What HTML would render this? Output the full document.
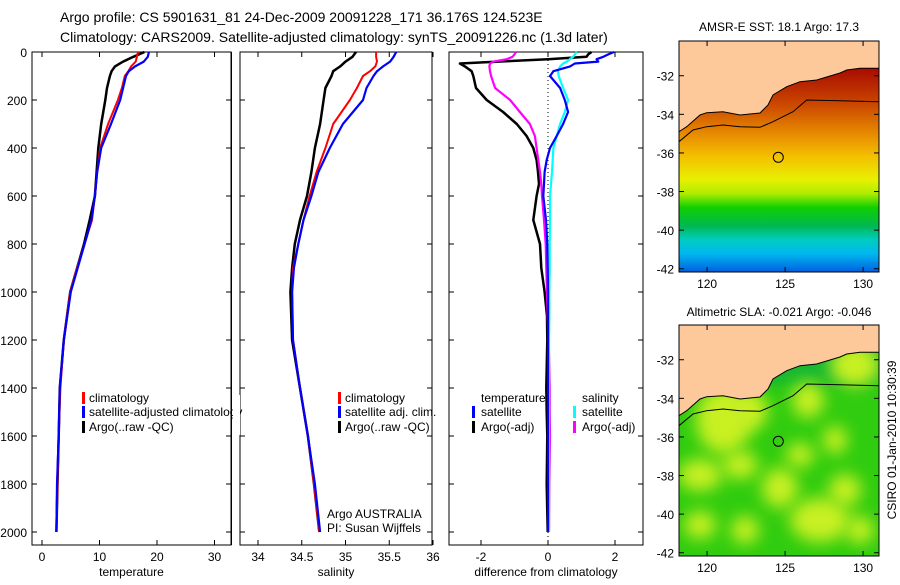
<!DOCTYPE html>
<html><head><meta charset="utf-8"><style>
body{margin:0;background:#fff}
svg text{font-family:"Liberation Sans",sans-serif;font-size:12px;fill:#000}
</style></head><body>
<svg id="fig" width="900" height="580" viewBox="0 0 900 580" xmlns="http://www.w3.org/2000/svg">
<defs>
<linearGradient id="sstg" x1="0" y1="0" x2="0" y2="1">
<stop offset="0.12" stop-color="#a80c00"/><stop offset="0.28" stop-color="#cc4a00"/><stop offset="0.4" stop-color="#e68a00"/>
<stop offset="0.5" stop-color="#f4c000"/><stop offset="0.6" stop-color="#e8f000"/><stop offset="0.66" stop-color="#b0ec00"/>
<stop offset="0.72" stop-color="#10d000"/><stop offset="0.8" stop-color="#00b850"/><stop offset="0.86" stop-color="#00ccc0"/>
<stop offset="0.92" stop-color="#00b8f0"/><stop offset="1" stop-color="#0060e0"/></linearGradient>
<filter id="bl" x="-50%" y="-50%" width="200%" height="200%"><feGaussianBlur stdDeviation="8"/></filter>
<clipPath id="c1"><rect x="679" y="41" width="200" height="231"/></clipPath>
<clipPath id="c2"><rect x="679" y="325" width="200" height="231"/></clipPath>
</defs>
<text x="60" y="22" style="font-size:14px">Argo profile: CS 5901631_81 24-Dec-2009 20091228_171 36.176S 124.523E</text>
<text x="60" y="42" style="font-size:14px">Climatology: CARS2009. Satellite-adjusted climatology: synTS_20091226.nc (1.3d later)</text>
<g id="plots"></g>
<g id="maps"></g>
<text x="89" y="402">climatology</text>
<text x="89" y="416">satellite-adjusted climatology</text>
<text x="89" y="431">Argo(..raw -QC)</text>
<rect x="233" y="395" width="7" height="40" fill="#fff"/>
<rect x="231" y="52" width="1" height="493" fill="#000"/>
<text x="345" y="402">climatology</text>
<text x="345" y="416">satellite adj. clim.</text>
<text x="345" y="431">Argo(..raw -QC)</text>
<text x="327" y="518">Argo AUSTRALIA</text>
<text x="327" y="532">PI: Susan Wijffels</text>
<text x="481" y="402">temperature</text>
<text x="481" y="416">satellite</text>
<text x="481" y="431">Argo(-adj)</text>
<text x="582" y="402">salinity</text>
<text x="582" y="416">satellite</text>
<text x="582" y="431">Argo(-adj)</text>
<g>
<rect x="82" y="392" width="3" height="12" fill="#f00"/><rect x="82" y="406" width="3" height="12" fill="#00f"/><rect x="82" y="421" width="3" height="12" fill="#000"/>
<rect x="338" y="392" width="3" height="12" fill="#f00"/><rect x="338" y="406" width="3" height="12" fill="#00f"/><rect x="338" y="421" width="3" height="12" fill="#000"/>
<rect x="472" y="406" width="3" height="12" fill="#00f"/><rect x="472" y="421" width="3" height="12" fill="#000"/>
<rect x="573" y="406" width="3" height="12" fill="#0ff"/><rect x="573" y="421" width="3" height="12" fill="#f0f"/>
</g>
<text x="779" y="31" text-anchor="middle">AMSR-E SST: 18.1 Argo: 17.3</text>
<text x="779" y="316" text-anchor="middle">Altimetric SLA: -0.021 Argo: -0.046</text>
<text transform="translate(896,440) rotate(-90)" text-anchor="middle">CSIRO 01-Jan-2010 10:30:39</text>
</svg>
<script>
const depths=[0,20,40,60,80,100,150,200,300,400,500,600,700,800,900,1000,1200,1400,1600,1800,2000];
const tempArgo=[17.8,15.9,14.1,12.7,12.1,11.8,11.3,11.0,10.3,9.8,9.5,9.2,8.3,7.3,6.1,4.9,3.8,3.1,2.9,2.7,2.5];
const tempClim=[16.7,16.5,16.3,15.5,15.0,14.4,13.9,13.2,11.5,10.1,9.6,9.2,8.7,7.4,6.1,4.9,3.8,3.2,2.9,2.7,2.5];
const tempSat=[18.6,18.4,17.7,16.2,15.1,14.6,14.1,13.6,12.0,10.3,9.6,9.2,8.6,7.4,6.2,5.0,3.8,3.1,2.9,2.6,2.5];
const salArgo=[35.12,35.08,35.0,34.94,34.86,34.84,34.77,34.75,34.71,34.65,34.61,34.56,34.48,34.42,34.39,34.37,34.39,34.48,34.57,34.64,34.70];
const salClim=[35.35,35.35,35.36,35.34,35.28,35.2,35.13,35.05,34.86,34.77,34.67,34.59,34.52,34.46,34.40,34.39,34.40,34.48,34.57,34.64,34.70];
const salSat=[35.58,35.55,35.51,35.43,35.36,35.32,35.24,35.2,34.97,34.82,34.69,34.61,34.52,34.46,34.41,34.39,34.40,34.48,34.57,34.65,34.71];
const diffDepths=[0,10,20,30,40,48,60,80,100,150,200,250,300,350,400,450,500,550,600,700,800,900,1000,1100,1200,1400,1500,1600,1800,2000];
const diffTempArgo=[1.3,1.2,1.15,0,-1.5,-2.63,-2.48,-2.28,-2.23,-2.15,-1.83,-1.34,-0.93,-0.64,-0.44,-0.34,-0.3,-0.27,-0.34,-0.44,-0.24,-0.2,-0.1,-0.03,-0.02,-0.05,-0.04,-0.02,-0.04,-0.01];
const diffTempSat=[1.97,1.8,1.65,1.45,1.5,0.8,0.66,0.16,0.06,0.36,0.5,0.6,0.45,0.26,0.06,-0.04,-0.1,-0.12,-0.14,-0.06,-0.02,-0.01,0,0,0,0,0,0,0,0];
const diffSalSat=[0.86,0.8,0.75,0.65,0.56,0.45,0.36,0.3,0.32,0.45,0.6,0.5,0.36,0.26,0.16,0.14,0.12,0.09,0.06,0.06,0.05,0.05,0.04,0.04,0.03,0.03,0.03,0.03,0.03,0.03];
const diffSalArgo=[-0.96,-1.0,-1.06,-1.23,-1.63,-1.73,-1.75,-1.73,-1.7,-1.58,-1.13,-0.84,-0.54,-0.39,-0.34,-0.29,-0.24,-0.2,-0.18,-0.12,-0.07,-0.05,-0.03,-0.01,0.02,0.05,0.05,0.06,0.04,0.03];
const depthTicks=[0,200,400,600,800,1000,1200,1400,1600,1800,2000];
const tempTicks=[0,10,20,30];
const salTicks=[34,34.5,35,35.5,36];
const diffTicks=[-2,0,2];
const latTicks=[-32,-34,-36,-38,-40,-42];
const lonTicks=[120,125,130];
const NS="http://www.w3.org/2000/svg";
function mk(tag,at,parent){const e=document.createElementNS(NS,tag);for(const k in at)e.setAttribute(k,at[k]);parent.appendChild(e);return e;}
const yD=d=>52+0.24*d;
const plots=document.getElementById('plots');
const panels=[
 {x0:32,x1:231,f:v=>42+5.75*v,ticks:tempTicks,label:'temperature',name:'temperature'},
 {x0:240,x1:432,f:v=>258+87.5*(v-34),ticks:salTicks,label:'salinity',name:'salinity'},
 {x0:449,x1:643,f:v=>548+33.5*v,ticks:diffTicks,label:'difference from climatology',name:'difference'}];
panels.forEach((p,i)=>{
 const g=mk('g',{},plots);
 
 
 const r=mk('rect',{x:p.x0,y:52,width:p.x1-p.x0,height:493,fill:'none',stroke:'#000','stroke-width':1},g);
 
 
 depthTicks.forEach(d=>{const y=yD(d);
  mk('line',{x1:p.x0,x2:p.x0+5,y1:y,y2:y,stroke:'#000'},g);mk('line',{x1:p.x1-5,x2:p.x1,y1:y,y2:y,stroke:'#000'},g);
  if(i==0){const t=mk('text',{x:27,y:y+5,'text-anchor':'end'},g);t.textContent=d;
   
   }
 });
 p.ticks.forEach(v=>{const x=p.f(v);
  mk('line',{x1:x,x2:x,y1:52,y2:57,stroke:'#000'},g);mk('line',{x1:x,x2:x,y1:540,y2:545,stroke:'#000'},g);
  const t=mk('text',{x:x,y:561,'text-anchor':'middle'},g);t.textContent=v;
  
  });
 const lab=mk('text',{x:(p.x0+p.x1)/2,y:576,'text-anchor':'middle'},g);lab.textContent=p.label;
 
 
 p.g=g;
});
function line(g,ds,vs,f,col,w,name){
 const pts=ds.map((d,i)=>f(vs[i]).toFixed(1)+','+yD(d).toFixed(1)).join(' ');
 const l=mk('polyline',{points:pts,fill:'none',stroke:col,'stroke-width':w,'stroke-linejoin':'round'},g);
 
 
}
const P=panels;
mk('line',{x1:548,x2:548,y1:52,y2:545,stroke:'#000','stroke-dasharray':'1,3'},P[2].g);
line(P[0].g,depths,tempArgo,P[0].f,'#000',2.5,'temp-argo-line');
line(P[0].g,depths,tempClim,P[0].f,'#f00',2,'temp-climatology-line');
line(P[0].g,depths,tempSat,P[0].f,'#00f',2.2,'temp-satellite-line');
line(P[1].g,depths,salArgo,P[1].f,'#000',2.5,'sal-argo-line');
line(P[1].g,depths,salClim,P[1].f,'#f00',2,'sal-climatology-line');
line(P[1].g,depths,salSat,P[1].f,'#00f',2.2,'sal-satellite-line');
line(P[2].g,diffDepths,diffTempArgo,P[2].f,'#000',2.5,'diff-temp-argo-line');
line(P[2].g,diffDepths,diffSalArgo,P[2].f,'#f0f',2.2,'diff-sal-argo-line');
line(P[2].g,diffDepths,diffSalSat,P[2].f,'#0ff',2.2,'diff-sal-satellite-line');
line(P[2].g,diffDepths,diffTempSat,P[2].f,'#00f',2.2,'diff-temp-satellite-line');

// maps
const maps=document.getElementById('maps');
const lonX=lon=>679+(lon-118.2)*15.6;
const coast=[[679,131.7],[686.7,126.7],[700,115],[706.7,112.7],[723,111.7],[740,115],[760,113],[768,105],[773,95],[786.7,86.7],[800,81.7],[816.7,80],[840,73],[846.7,70],[860,68.3],[879,68.3]];
const contour=[[679,141.7],[693,130],[706.7,126.7],[723,125],[740,126.7],[760,127.3],[773,121.7],[793,111.7],[806.7,100],[840,100.7],[879,101.7]];
const blobs=[[724,420,28,34],[748,410,20,20],[855,365,25,22],[808,400,16,18],[700,475,22,16],[740,465,18,14],[780,488,18,20],[845,490,16,16],[820,520,30,22],[700,525,16,14],[745,530,14,14],[860,530,14,14],[800,455,14,12],[835,440,12,14]];
[[41,'sst'],[325,'sla']].forEach(([top,nm])=>{
 const g=mk('g',{},maps);
 
 
 const dy=top-41;
 const cg=mk('g',{'clip-path':'url(#c'+(nm=='sst'?1:2)+')'},g);
 if(nm=='sst'){mk('rect',{x:679,y:41,width:200,height:231,fill:'url(#sstg)'},cg);}
 else{mk('rect',{x:679,y:325,width:200,height:231,fill:'#30cc10'},cg);
  mk('rect',{x:679,y:325,width:200,height:60,fill:'#18b830',filter:'url(#bl)'},cg);
  blobs.forEach(b=>mk('ellipse',{cx:b[0],cy:b[1],rx:b[2],ry:b[3],fill:'#c8f020',filter:'url(#bl)'},cg));}
 const land=[[679,top]].concat(coast.map(c=>[c[0],c[1]+dy])).concat([[879,top]]);
 const lp=mk('polygon',{points:land.map(c=>c.join(',')).join(' '),fill:'#fdc99a',stroke:'#000','stroke-width':1},cg);
 
 
 mk('polyline',{points:contour.map(c=>c[0]+','+(c[1]+dy)).join(' '),fill:'none',stroke:'#000','stroke-width':1},cg);
 mk('rect',{x:679,y:top,width:200,height:231,fill:'none',stroke:'#000'},g);
 const ci=mk('circle',{cx:778.3,cy:157.3+dy,r:5,fill:'none',stroke:'#000'},g);
 
 
 latTicks.forEach(lat=>{const y=top+(-30.2-lat)*19.3;
  mk('line',{x1:679,x2:684,y1:y,y2:y,stroke:'#000'},g);mk('line',{x1:874,x2:879,y1:y,y2:y,stroke:'#000'},g);
  const t=mk('text',{x:674,y:y+5,'text-anchor':'end'},g);t.textContent=lat;
  
  });
 lonTicks.forEach(lon=>{const x=lonX(lon);
  mk('line',{x1:x,x2:x,y1:top,y2:top+5,stroke:'#000'},g);mk('line',{x1:x,x2:x,y1:top+226,y2:top+231,stroke:'#000'},g);
  const t=mk('text',{x:x,y:top+247,'text-anchor':'middle'},g);t.textContent=lon;
  
  });
});
</script>
</body></html>
